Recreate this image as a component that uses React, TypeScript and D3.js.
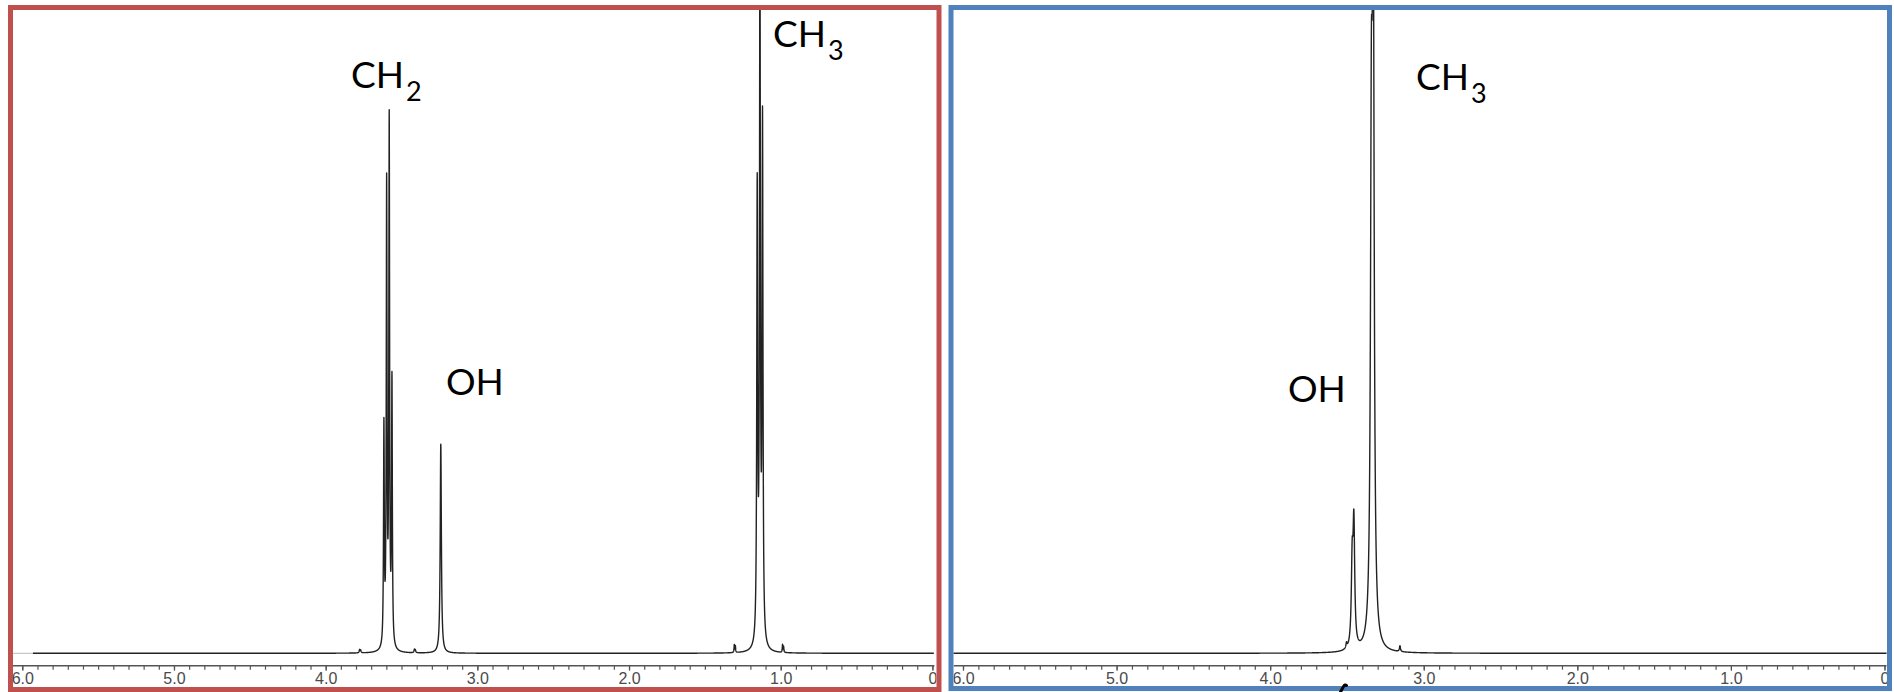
import React, { useEffect, useRef } from "react";
import * as d3 from "d3";

const WIDTH = 1894;
const HEIGHT = 692;

// axis ticks (ppm)
const majorTicks = [6, 5, 4, 3, 2, 1, 0];
const tickLabels = ["6.0", "5.0", "4.0", "3.0", "2.0", "1.0", "0"];

// left spectrum (ethanol) - peak list
const ethanolShift = [3.776, 3.769, 3.616, 3.598, 3.581, 3.563, 3.415, 3.409, 3.241, 1.306, 1.299, 1.155, 1.137, 1.12, 0.988, 0.981];
const ethanolHeight = [0.005, 0.004, 0.34, 0.71, 0.81, 0.41, 0.005, 0.004, 0.325, 0.012, 0.01, 0.7, 1.08, 0.8, 0.012, 0.009];
const ethanolWidth = [0.003, 0.003, 0.003, 0.003, 0.003, 0.003, 0.003, 0.003, 0.0045, 0.002, 0.002, 0.0035, 0.0035, 0.0035, 0.002, 0.002];

// right spectrum (methanol)
const methanolShift = [3.503, 3.466, 3.455, 3.341, 3.329, 3.155];
const methanolHeight = [0.008, 0.125, 0.185, 0.7, 1.05, 0.009];
const methanolWidth = [0.004, 0.0065, 0.0065, 0.007, 0.007, 0.004];

const labelMain = ["CH", "OH", "CH"];
const labelSub = ["2", "", "3"];

const panels = [
  {
    id: "left",
    frame: { x: 10.5, y: 7.5, w: 928.5, h: 682 },
    color: "#C0504D",
    x6: 22.3,
    x0: 932.4,
    from: 5.93,
    to: -0.01,
    shift: ethanolShift,
    height: ethanolHeight,
    width: ethanolWidth,
    labels: [
      { i: 0, x: 351, y: 88 },
      { i: 1, x: 446, y: 395 },
      { i: 2, x: 773, y: 47 },
    ],
  },
  {
    id: "right",
    frame: { x: 951, y: 7.5, w: 938.5, h: 681 },
    color: "#4F81BD",
    x6: 963,
    x0: 1884.5,
    from: 6.12,
    to: -0.014,
    shift: methanolShift,
    height: methanolHeight,
    width: methanolWidth,
    labels: [
      { i: 1, x: 1288, y: 402 },
      { i: 2, x: 1416, y: 90 },
    ],
  },
];

const BASE_Y = 653.3;
const TOP_Y = 10;
const AXIS_Y = 665.7;

const App = () => {
  const ref = useRef<SVGSVGElement>(null);

  useEffect(() => {
    const svg = d3.select(ref.current);
    svg.selectAll("*").remove();

    const y = d3.scaleLinear().domain([0, 1]).range([BASE_Y, TOP_Y]);

    panels.forEach((p) => {
      const x = d3.scaleLinear().domain([6, 0]).range([p.x6, p.x0]);
      const inner = {
        x: p.frame.x + 2.5,
        y: p.frame.y + 2.5,
        w: p.frame.w - 5,
        h: p.frame.h - 5,
      };

      svg.append("defs")
        .append("clipPath")
        .attr("id", `clip_${p.id}`)
        .append("rect")
        .attr("x", inner.x)
        .attr("y", inner.y)
        .attr("width", inner.w)
        .attr("height", inner.h);

      const g = svg.append("g").attr("clip-path", `url(#clip_${p.id})`);

      // white panel
      g.append("rect")
        .attr("x", inner.x)
        .attr("y", inner.y)
        .attr("width", inner.w)
        .attr("height", inner.h)
        .attr("fill", "#fff");

      // spectrum: lorentzian lines from the peak list
      const intensity = (ppm: number) => {
        let v = 0;
        for (let k = 0; k < p.shift.length; k++) {
          const d = ppm - p.shift[k];
          const w2 = p.width[k] * p.width[k];
          v += (p.height[k] * w2) / (d * d + w2);
        }
        return v;
      };
      const grid = d3.range(p.from, p.to, -0.0005).concat(p.shift);
      grid.sort((a, b) => b - a);
      const pts = grid.map((ppm) => [ppm, intensity(ppm)] as [number, number]);

      if (p.id === "left") {
        g.append("line")
          .attr("x1", inner.x)
          .attr("x2", x(p.from))
          .attr("y1", BASE_Y)
          .attr("y2", BASE_Y)
          .attr("stroke", "#bbb")
          .attr("stroke-width", 1);
      }

      const line = d3.line<[number, number]>()
        .x((d) => x(d[0]))
        .y((d) => y(d[1]));

      g.append("path")
        .attr("d", line(pts))
        .attr("fill", "none")
        .attr("stroke", "#222")
        .attr("stroke-width", 1.4)
        .attr("stroke-linejoin", "round");

      // axis line
      g.append("line")
        .attr("x1", inner.x)
        .attr("x2", x(0) + 2)
        .attr("y1", AXIS_Y)
        .attr("y2", AXIS_Y)
        .attr("stroke", "#555")
        .attr("stroke-width", 1.4);

      // minor ticks
      const minor = d3.range(0, 61).map((i) => i / 10);
      g.append("g")
        .attr("transform", `translate(0,${AXIS_Y})`)
        .call(d3.axisBottom(x).tickValues(minor).tickSize(4).tickSizeOuter(0).tickFormat(() => ""))
        .call((a) => a.select(".domain").remove())
        .call((a) => a.selectAll("line").attr("stroke", "#555").attr("stroke-width", 1.2));

      // major ticks + labels
      g.append("g")
        .attr("transform", `translate(0,${AXIS_Y})`)
        .call(
          d3.axisBottom(x)
            .tickValues(majorTicks)
            .tickSize(5)
            .tickSizeOuter(0)
            .tickFormat((d, i) => tickLabels[i])
        )
        .call((a) => a.select(".domain").remove())
        .call((a) => a.selectAll("line").attr("stroke", "#555").attr("stroke-width", 1.2))
        .call((a) =>
          a.selectAll("text")
            .attr("y", 18.5)
            .attr("dy", 0)
            .attr("fill", "#4a4a4a")
            .style("font-family", "'Liberation Sans', Arial, sans-serif")
            .style("font-size", "16px")
        );

      // peak labels
      p.labels.forEach((l) => {
        const t = g.append("text")
          .attr("x", l.x)
          .attr("y", l.y)
          .attr("fill", "#000")
          .style("font-family", "Lato, 'Open Sans', sans-serif")
          .style("font-size", "37px")
          .text(labelMain[l.i]);
        if (labelSub[l.i]) {
          t.append("tspan")
            .attr("dy", 13)
            .attr("dx", 2)
            .style("font-size", "27px")
            .text(labelSub[l.i]);
        }
      });

      // frame on top
      svg.append("rect")
        .attr("x", p.frame.x)
        .attr("y", p.frame.y)
        .attr("width", p.frame.w)
        .attr("height", p.frame.h)
        .attr("fill", "none")
        .attr("stroke", p.color)
        .attr("stroke-width", 5);
    });

    // pen mark under the right spectrum
    svg.append("path")
      .attr("d", "M1340.5,692 L1343.5,686.5 Q1345,684 1346.5,685.5")
      .attr("fill", "none")
      .attr("stroke", "#000")
      .attr("stroke-width", 3)
      .attr("stroke-linecap", "round");
  }, []);

  return (
    <svg
      ref={ref}
      width={WIDTH}
      height={HEIGHT}
      style={{ position: "absolute", left: 0, top: 0, display: "block", background: "#fff" }}
    />
  );
};

export default App;
